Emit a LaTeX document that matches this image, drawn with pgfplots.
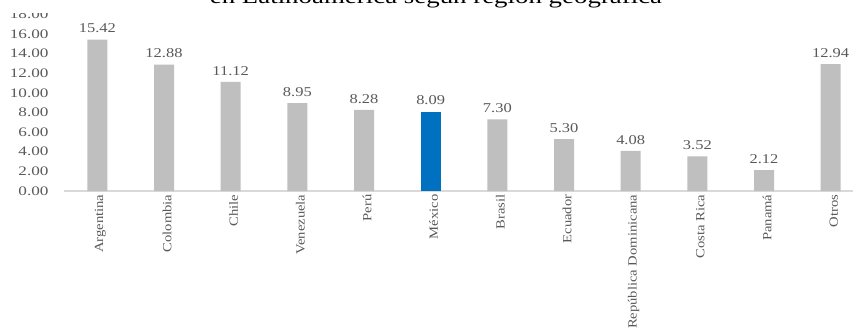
\documentclass[border=0pt]{standalone}
\usepackage{fontspec}
\setmainfont{Liberation Serif}
\usepackage{graphicx}
\usepackage{pgfplots}
\pgfplotsset{compat=1.18}

\definecolor{bargray}{HTML}{BFBFBF}
\definecolor{barblue}{HTML}{0070C0}
\definecolor{txtgray}{HTML}{595959}
\definecolor{linegray}{HTML}{D9D9D9}

% widened lettering used throughout the chart
\newcommand{\wide}[2]{\scalebox{#1}[1]{#2}}
\newcommand{\cat}[1]{\wide{1.17}{#1}}

\begin{document}
\begin{tikzpicture}
\begin{axis}[
  at={(0pt,0pt)}, anchor=south west,
  scale only axis,
  width=800pt, height=176.6pt,
  xmin=-0.5, xmax=11.5,
  ymin=0, ymax=18,
  ytick={0,2,...,18},
  xtick={0,...,11},
  xticklabels={\cat{Argentina},\cat{Colombia},\cat{Chile},\cat{Venezuela},\cat{Perú},\cat{México},\cat{Brasil},\cat{Ecuador},\cat{República Dominicana},\cat{Costa Rica},\cat{Panamá},\cat{Otros}},
  axis lines*=left,
  y axis line style={draw=none},
  x axis line style={draw=linegray, line width=1.2pt, -},
  major tick length=0pt,
  yticklabel style={font=\fontsize{13}{15}\selectfont, text=txtgray, xshift=-12pt},
  /pgf/number format/assume math mode=true,
  yticklabel={\wide{1.32}{\pgfmathprintnumber[fixed,fixed zerofill,precision=2]{\tick}}},
  xticklabel style={font=\fontsize{12.5}{15}\selectfont, text=txtgray, rotate=90, anchor=east, yshift=-3pt},
  ybar, bar width=20pt, bar shift=0pt,
  nodes near coords={\wide{1.22}{\pgfmathprintnumber[fixed,fixed zerofill,precision=2]{\pgfplotspointmeta}}},
  nodes near coords style={font=\fontsize{13.5}{16}\selectfont, text=txtgray, yshift=3pt},
  clip=false,
]
% other countries
\addplot[fill=bargray, draw=none] coordinates {
  (0,15.42) (1,12.88) (2,11.12) (3,8.95) (4,8.28)
  (6,7.30) (7,5.30) (8,4.08) (9,3.52) (10,2.12) (11,12.94)
};
% Mexico highlighted
\addplot[fill=barblue, draw=none] coordinates {(5,8.09)};
\end{axis}
% title block (white box overlaps the top tick label)
\fill[white] (-64pt,178pt) rectangle (0pt,200pt);
\node[font=\fontsize{21}{25}\selectfont, anchor=base] at (372pt,187pt)
  {\wide{1.28}{en Latinoamérica según región geográfica}};
\pgfresetboundingbox
\useasboundingbox (-64pt,-139pt) rectangle (789pt,191pt);
\end{tikzpicture}
\end{document}
